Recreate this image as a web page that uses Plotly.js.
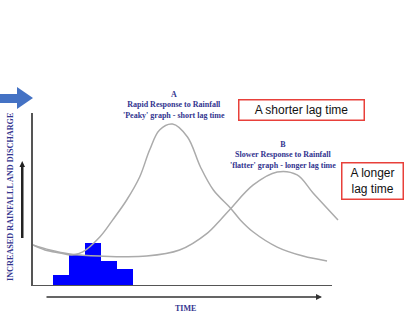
<!DOCTYPE html>
<html>
<head>
<meta charset="utf-8">
<script src="https://cdn.plot.ly/plotly-3.0.1.min.js"></script>
<style>html,body{margin:0;padding:0;background:#fff;}#chart{width:405px;height:317px;}</style>
</head>
<body>
<div id="chart"></div>
<script>
// ---- data (time units, relative rainfall / discharge units) ----
const rainTime = [2.8, 4.4, 6.0, 7.6, 9.2];
const rainAmount = [6.5, 18, 25, 14.5, 10];

const hydroA_time = [0, 1.2, 2.7, 3.9, 5.0, 6.7, 8.0, 9.4, 10.7, 11.7, 12.7, 14.0, 15.5, 16.8, 18.1, 19.8, 20.8, 22.1, 24.5, 27.1, 29.5];
const hydroA_flow = [23.7, 20.8, 19.1, 17.9, 19.7, 28.3, 38.2, 49.7, 63.0, 78.6, 90.2, 93.6, 86.1, 68.8, 55.5, 45.1, 38.2, 31.2, 22.5, 17.3, 14.5];

const hydroB_time = [0, 1.7, 3.7, 6.7, 11.4, 14.7, 17.5, 18.8, 19.8, 22.1, 24.5, 26.5, 28.1, 30.6];
const hydroB_flow = [23.7, 20.8, 18.5, 17.3, 17.3, 20.8, 30.6, 38.2, 44.5, 58.4, 65.9, 64.2, 53.8, 38.2];

const labelA = "A<br>Rapid Response to Rainfall<br>'Peaky' graph - short lag time";
const labelB = "B<br>Slower Response to Rainfall<br>'flatter' graph - longer lag time";
const boxShort = "A shorter lag time";
const boxLong = "A longer<br>lag time";
const yLabel = "INCREASED RAINFALLL AND DISCHARGE";
const xLabel = "TIME";

// ---- layout geometry helpers ----
const L = 33, T = 113, W = 312, H = 173;
const PX = x => (x - L) / W;
const PY = y => (T + H - y) / H;

const navy = '#33358f';
const serif = 'Liberation Serif, Times New Roman, serif';

const traces = [
  {type: 'bar', x: rainTime, y: rainAmount, width: 1.6,
   marker: {color: '#0000ff', line: {width: 0}}, hoverinfo: 'skip'},
  {type: 'scatter', mode: 'lines', x: hydroA_time, y: hydroA_flow,
   line: {color: '#ababab', width: 1.5, shape: 'spline', smoothing: 1}, hoverinfo: 'skip'},
  {type: 'scatter', mode: 'lines', x: hydroB_time, y: hydroB_flow,
   line: {color: '#ababab', width: 1.5, shape: 'spline', smoothing: 1}, hoverinfo: 'skip'}
];

const ann = o => Object.assign({xref: 'paper', yref: 'paper', xanchor: 'center', yanchor: 'middle'}, o);

const layout = {
  width: 405, height: 317,
  margin: {l: L, r: 405 - L - W, t: T, b: 317 - T - H, pad: 0},
  paper_bgcolor: '#fff', plot_bgcolor: '#fff',
  showlegend: false,
  bargap: 0,
  xaxis: {range: [0, W / 9.967], showline: false, showgrid: false, zeroline: false,
          showticklabels: false, ticks: '', fixedrange: true},
  yaxis: {range: [0, 100], showline: true, linecolor: '#555', linewidth: 2,
          showgrid: false, zeroline: false, showticklabels: false, ticks: '', fixedrange: true},
  shapes: [
    {type: 'line', xref: 'x', yref: 'y', x0: 0, x1: 30, y0: 0, y1: 0,
     line: {color: '#555', width: 2}},
    {type: 'path', xref: 'paper', yref: 'paper',
     path: 'M' + PX(0) + ',' + PY(94) + ' L' + PX(17) + ',' + PY(94) + ' L' + PX(17) + ',' + PY(87) +
           ' L' + PX(33) + ',' + PY(98) + ' L' + PX(17) + ',' + PY(109) + ' L' + PX(17) + ',' + PY(103) +
           ' L' + PX(0) + ',' + PY(103) + ' Z',
     fillcolor: '#4472c4', line: {width: 0}},
    {type: 'rect', xref: 'paper', yref: 'paper', x0: PX(21), x1: PX(23.5), y0: PY(238), y1: PY(165),
     fillcolor: '#222', line: {width: 0}},
    {type: 'path', xref: 'paper', yref: 'paper',
     path: 'M' + PX(19.5) + ',' + PY(167) + ' L' + PX(25) + ',' + PY(167) + ' L' + PX(22.2) + ',' + PY(161) + ' Z',
     fillcolor: '#222', line: {width: 0}}
  ],
  annotations: [
    {xref: 'paper', yref: 'paper', x: PX(322), y: PY(297), ax: -277, ay: 0,
     axref: 'pixel', ayref: 'pixel', text: '', showarrow: true, arrowhead: 2,
     arrowsize: 0.8, arrowwidth: 1.5, arrowcolor: '#333'},
    ann({x: PX(10), y: PY(197), text: yLabel, textangle: -90,
     showarrow: false, font: {family: serif, size: 8.2, color: navy, weight: 'bold'}}),
    ann({x: PX(185), y: PY(308), text: xLabel,
     showarrow: false, font: {family: serif, size: 8, color: navy, weight: 'bold'}}),
    ann({x: PX(174), y: PY(105), text: labelA,
     showarrow: false, font: {family: serif, size: 8, color: navy, weight: 'bold'}}),
    ann({x: PX(283), y: PY(154.5), text: labelB,
     showarrow: false, font: {family: serif, size: 8, color: navy, weight: 'bold'}}),
    ann({x: PX(301.5), y: PY(110), text: boxShort,
     showarrow: false, width: 122, height: 17, bordercolor: '#e8403a', borderwidth: 1.5,
     bgcolor: '#fff', font: {family: 'Liberation Sans, Arial, sans-serif', size: 12, color: '#111'}}),
    ann({x: PX(372.5), y: PY(181), text: boxLong,
     showarrow: false, width: 58, height: 33, bordercolor: '#e8403a', borderwidth: 1.5,
     bgcolor: '#fff', font: {family: 'Liberation Sans, Arial, sans-serif', size: 12, color: '#111'}})
  ]
};

Plotly.newPlot('chart', traces, layout, {displayModeBar: false, staticPlot: true});
</script>
</body>
</html>
